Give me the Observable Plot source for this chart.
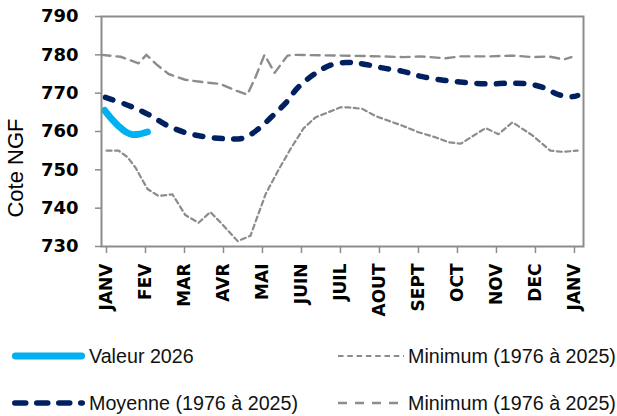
<!DOCTYPE html>
<html>
<head>
<meta charset="utf-8">
<script src="https://cdn.jsdelivr.net/npm/d3@7"></script>
<script src="https://cdn.jsdelivr.net/npm/@observablehq/plot@0.6"></script>
<style>
  html, body { margin: 0; padding: 0; background: #fff; }
  #wrap { position: relative; width: 617px; height: 416px; overflow: hidden; }
  #ylab { position: absolute; left: 16px; top: 168px; transform: translate(-50%, -50%) rotate(-90deg);
          font-family: "Liberation Sans", Arial, sans-serif; font-size: 22px; color: #000; white-space: nowrap; }
  .leg { position: absolute; display: flex; align-items: center; font-family: "Liberation Sans", Arial, sans-serif;
         font-size: 19.7px; color: #111; white-space: nowrap; }
  .leg svg { display: block; margin-right: 4px; }
</style>
</head>
<body>
<div id="wrap"></div>
<script>
// ---- Tick labels ----
const moisLabels = ["JANV","FEV","MAR","AVR","MAI","JUIN","JUIL","AOUT","SEPT","OCT","NOV","DEC","JANV"];
const moisTicks = [0,1,2,3,4,5,6,7,8,9,10,11,12];
const yTicks = [730, 740, 750, 760, 770, 780, 790];

// ---- Series (x = position in months from 1 January) ----
const valeur2026X = [0.08, 0.25, 0.44, 0.62, 0.8, 0.97, 1.18];
const valeur2026Y = [765.5, 763.4, 761.4, 759.9, 759.2, 759.3, 759.9];

const moyenneX = [0.1, 0.69, 1.21, 1.72, 2.23, 2.74, 3.2, 3.6, 3.85, 4.1, 4.4, 4.72, 5.05, 5.49, 5.87, 6.26, 6.51, 6.77, 7.2, 7.72, 8.23, 8.82, 9.33, 9.92, 10.44, 10.95, 11.38, 11.72, 12.08, 12.21];
const moyenneY = [768.9, 766.8, 764.4, 761.4, 759.5, 758.5, 758.1, 758.2, 759.4, 761.3, 764.2, 767.4, 771.6, 775.2, 777.3, 778.0, 777.9, 777.5, 776.6, 775.7, 774.3, 773.3, 772.8, 772.4, 772.6, 772.4, 771.3, 769.6, 769.1, 769.4];

const minimumX = [0.13, 0.44, 0.67, 0.87, 1.18, 1.46, 1.82, 2.15, 2.49, 2.79, 3.05, 3.49, 3.82, 4.21, 4.54, 4.85, 5.18, 5.49, 6.13, 6.33, 6.69, 7.03, 7.28, 7.72, 8.13, 8.56, 8.9, 9.21, 9.85, 10.18, 10.54, 11.05, 11.51, 11.82, 12.21];
const minimumY = [755.0, 755.0, 753.3, 750.6, 745.0, 743.2, 743.6, 738.2, 736.2, 739.0, 736.3, 731.4, 732.8, 743.7, 750.0, 755.5, 760.8, 763.7, 766.3, 766.3, 765.9, 764.0, 763.1, 761.5, 759.8, 758.5, 757.2, 756.8, 760.9, 759.3, 762.4, 759.0, 755.0, 754.7, 755.0];

const maximumX = [0, 0.49, 0.95, 1.15, 1.41, 1.72, 2.15, 2.67, 3.05, 3.44, 3.74, 3.95, 4.18, 4.44, 4.77, 5.0, 6.13, 7.15, 7.72, 8.18, 8.82, 9.21, 9.97, 10.54, 11.08, 11.46, 11.85, 12.05];
const maximumY = [780.0, 779.5, 777.8, 780.0, 777.5, 775.0, 773.5, 772.8, 772.4, 770.7, 769.6, 774.2, 780.0, 775.3, 779.8, 780.0, 779.8, 779.6, 779.4, 779.6, 779.1, 779.6, 779.6, 779.8, 779.4, 779.6, 778.8, 779.4];

// ---- Legend labels ----
const legendLabels = ["Valeur 2026", "Moyenne (1976 à 2025)", "Minimum (1976 à 2025)", "Minimum (1976 à 2025)"];

const toRows = (xs, ys) => xs.map((x, i) => ({x, y: ys[i]}));

const navy = "#002060", sky = "#00b0f0", grey = "#8c8c8c";

const chart = Plot.plot({
  width: 617,
  height: 331,
  marginLeft: 101,
  marginRight: 34,
  marginTop: 16,
  marginBottom: 85,
  x: {domain: [0, 12.36]},
  y: {domain: [730, 790]},
  style: {background: "transparent", color: "#000"},
  marks: [
    Plot.line(toRows(maximumX, maximumY), {x: "x", y: "y", stroke: grey, strokeWidth: 2.4, strokeDasharray: "9,6"}),
    Plot.line(toRows(minimumX, minimumY), {x: "x", y: "y", stroke: grey, strokeWidth: 2.2, strokeDasharray: "5,3.5"}),
    Plot.line(toRows(moyenneX, moyenneY), {x: "x", y: "y", stroke: navy, strokeWidth: 5.5, strokeDasharray: "8,11.5", strokeLinecap: "round", curve: "catmull-rom"}),
    Plot.line(toRows(valeur2026X, valeur2026Y), {x: "x", y: "y", stroke: sky, strokeWidth: 6.8, strokeLinecap: "round", curve: "catmull-rom"}),
    Plot.frame({stroke: grey, strokeWidth: 2}),
    Plot.axisY({ticks: yTicks, tickSize: 6, tickPadding: 17, stroke: grey, strokeWidth: 1.5, fill: "#000",
                fontSize: 18, fontWeight: 700, fontFamily: "DejaVu Sans", label: null}),
    Plot.axisX({ticks: moisTicks, tickFormat: i => moisLabels[i], tickRotate: -90, tickSize: 7, tickPadding: 10,
                stroke: grey, strokeWidth: 1.5, fill: "#000", fontSize: 17, fontWeight: 700, fontFamily: "DejaVu Sans",
                label: null, dx: 5})
  ]
});

const wrap = document.getElementById("wrap");
wrap.appendChild(chart);

const ylab = document.createElement("div");
ylab.id = "ylab";
ylab.textContent = "Cote NGF";
wrap.appendChild(ylab);

// legend entries: swatch style + placement
const legendItems = [
  {label: legendLabels[0], left: 12, top: 356, stroke: sky, width: 6.8, dash: null, round: true, w: 73},
  {label: legendLabels[1], left: 12, top: 403, stroke: navy, width: 5.5, dash: "11,11", round: true, w: 73},
  {label: legendLabels[2], left: 338, top: 356, stroke: grey, width: 2.2, dash: "5.5,3.8", round: false, w: 66},
  {label: legendLabels[3], left: 338, top: 403, stroke: grey, width: 2.4, dash: "9,8", round: false, w: 66}
];
for (const it of legendItems) {
  const d = document.createElement("div");
  d.className = "leg";
  d.style.left = it.left + "px";
  d.style.top = (it.top - 14) + "px";
  d.style.height = "28px";
  const ns = "http://www.w3.org/2000/svg";
  const s = document.createElementNS(ns, "svg");
  s.setAttribute("width", it.w);
  s.setAttribute("height", 12);
  const l = document.createElementNS(ns, "line");
  const cap = it.round ? it.width / 2 : 0;
  l.setAttribute("x1", cap);
  l.setAttribute("x2", it.w - cap);
  l.setAttribute("y1", 6);
  l.setAttribute("y2", 6);
  l.setAttribute("stroke", it.stroke);
  l.setAttribute("stroke-width", it.width);
  if (it.dash) l.setAttribute("stroke-dasharray", it.dash);
  if (it.round) l.setAttribute("stroke-linecap", "round");
  s.appendChild(l);
  d.appendChild(s);
  const t = document.createElement("span");
  t.textContent = it.label;
  d.appendChild(t);
  wrap.appendChild(d);
}
</script>
</body>
</html>
